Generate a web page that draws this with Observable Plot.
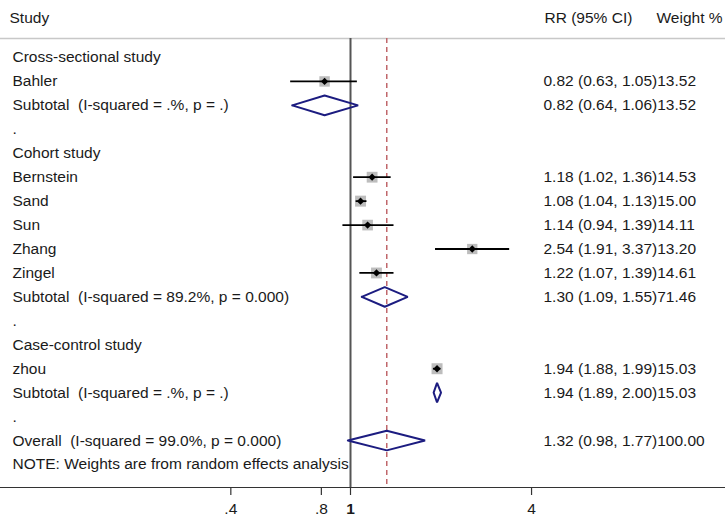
<!DOCTYPE html>
<html>
<head>
<meta charset="utf-8">
<script src="https://cdn.jsdelivr.net/npm/d3@7"></script>
<script src="https://cdn.jsdelivr.net/npm/@observablehq/plot@0.6"></script>
<style>
  html, body { margin: 0; padding: 0; background: #fff; }
  #chart svg { display: block; }
</style>
</head>
<body>
<div id="chart"></div>
<script>
// ---- data ----
const labels = [
  "Cross-sectional study",
  "Bahler",
  "Subtotal\u00a0 (I-squared = .%, p = .)",
  ".",
  "Cohort study",
  "Bernstein",
  "Sand",
  "Sun",
  "Zhang",
  "Zingel",
  "Subtotal\u00a0 (I-squared = 89.2%, p = 0.000)",
  ".",
  "Case-control study",
  "zhou",
  "Subtotal\u00a0 (I-squared = .%, p = .)",
  ".",
  "Overall\u00a0 (I-squared = 99.0%, p = 0.000)",
  "NOTE: Weights are from random effects analysis"
];
const kinds = ["group","study","subtotal","blank","group","study","study","study","study","study","subtotal","blank","group","study","subtotal","blank","overall","note"];
const rr     = [null, 0.82, 0.82, null, null, 1.18, 1.08, 1.14, 2.54, 1.22, 1.30, null, null, 1.94, 1.94, null, 1.32, null];
const lower  = [null, 0.63, 0.64, null, null, 1.02, 1.04, 0.94, 1.91, 1.07, 1.09, null, null, 1.88, 1.89, null, 0.98, null];
const upper  = [null, 1.05, 1.06, null, null, 1.36, 1.13, 1.39, 3.37, 1.39, 1.55, null, null, 1.99, 2.00, null, 1.77, null];
const weight = [null, 13.52, 13.52, null, null, 14.53, 15.00, 14.11, 13.20, 14.61, 71.46, null, null, 15.03, 15.03, null, 100.00, null];
const overallRR = 1.32;
const tickValues = [0.4, 0.8, 1, 4];
const tickLabels = [".4", ".8", "1", "4"];
const headers = ["Study", "RR (95% CI)", "Weight %"];

// ---- build table ----
const rows = labels.map((label, i) => ({
  i, label, kind: kinds[i], rr: rr[i], lo: lower[i], hi: upper[i], w: weight[i]
}));
const studies = rows.filter(d => d.kind === "study");
const pooled = rows.filter(d => d.kind === "subtotal" || d.kind === "overall");
const withCI = rows.filter(d => d.rr != null);
const HALF = 0.41; // diamond half height (rows)
const diamondPts = pooled.flatMap(d => [
  {id: d.i, x: d.lo, y: d.i},
  {id: d.i, x: d.rr, y: d.i - HALF},
  {id: d.i, x: d.hi, y: d.i},
  {id: d.i, x: d.rr, y: d.i + HALF},
  {id: d.i, x: d.lo, y: d.i}
]);
const ticks = tickValues.map((v, k) => ({v, label: tickLabels[k]}));

const W = 725, HGT = 519;
const frameTop = 38, frameBottom = 487, row0 = 57, step = 23.94;
const yDomain = [(frameTop - row0) / step, (frameBottom - row0) / step];
const pxPerLn = 130.6, x1px = 350;
const xDomain = [Math.exp(-x1px / pxPerLn), Math.exp((W - x1px) / pxPerLn)];

const font = "Liberation Sans, Arial, Helvetica, sans-serif";
const txt = "#1a1a1a";

const plot = Plot.plot({
  width: W,
  height: HGT,
  marginLeft: 0,
  marginRight: 0,
  marginTop: frameTop,
  marginBottom: HGT - frameBottom,
  style: {fontFamily: font, fontSize: "15.5px", color: txt, background: "#fff", overflow: "visible"},
  x: {type: "log", domain: xDomain, range: [0, W], axis: null},
  y: {type: "linear", domain: yDomain, reverse: true, axis: null},
  r: {domain: [0, 15.03], range: [0, 6.2]},
  marks: [
    Plot.ruleY([yDomain[0]], {stroke: "#c8c8c8", strokeWidth: 1.5}),
    Plot.ruleY([yDomain[1]], {stroke: "#333", strokeWidth: 1.2}),
    Plot.ruleX([1], {stroke: "#555", strokeWidth: 2}),
    Plot.ruleX([overallRR], {stroke: "#c0676b", strokeWidth: 1.5, strokeDasharray: "5,4"}),
    Plot.dot(studies, {x: "rr", y: "i", r: "w", symbol: "square", fill: "#bdbdbd", stroke: "none"}),
    Plot.link(studies, {x1: "lo", x2: "hi", y1: "i", y2: "i", stroke: "#000", strokeWidth: 1.8}),
    Plot.dot(studies, {x: "rr", y: "i", r: 3.3, symbol: "diamond2", fill: "#000", stroke: "none"}),
    Plot.line(diamondPts, {x: "x", y: "y", z: "id", stroke: "#1c1c80", strokeWidth: 2, strokeLinejoin: "miter", curve: "linear"}),
    Plot.text(rows, {y: "i", text: "label", frameAnchor: "left", dx: 12, textAnchor: "start", fill: txt}),
    Plot.text(withCI, {y: "i", text: d => `${d.rr.toFixed(2)} (${d.lo.toFixed(2)}, ${d.hi.toFixed(2)})${d.w.toFixed(2)}`,
      frameAnchor: "left", dx: 543, textAnchor: "start", fill: txt}),
    Plot.text([headers[0]], {frameAnchor: "top-left", dx: 9, dy: -27, textAnchor: "start", fill: txt}),
    Plot.text([headers[1]], {frameAnchor: "top-left", dx: 544, dy: -27, textAnchor: "start", fill: txt}),
    Plot.text([headers[2]], {frameAnchor: "top-left", dx: 656, dy: -27, textAnchor: "start", fill: txt}),
    Plot.axisX({ticks: tickValues, tickSize: 8, tickFormat: () => "", stroke: "#333", strokeWidth: 1.2}),
    Plot.text(ticks.filter(t => t.v !== 1), {x: "v", text: "label", frameAnchor: "bottom", dy: 26, fill: txt}),
    Plot.text(ticks.filter(t => t.v === 1), {x: "v", text: "label", frameAnchor: "bottom", dy: 26, fill: txt, fontWeight: "bold"})
  ]
});
document.getElementById("chart").appendChild(plot);
</script>
</body>
</html>
